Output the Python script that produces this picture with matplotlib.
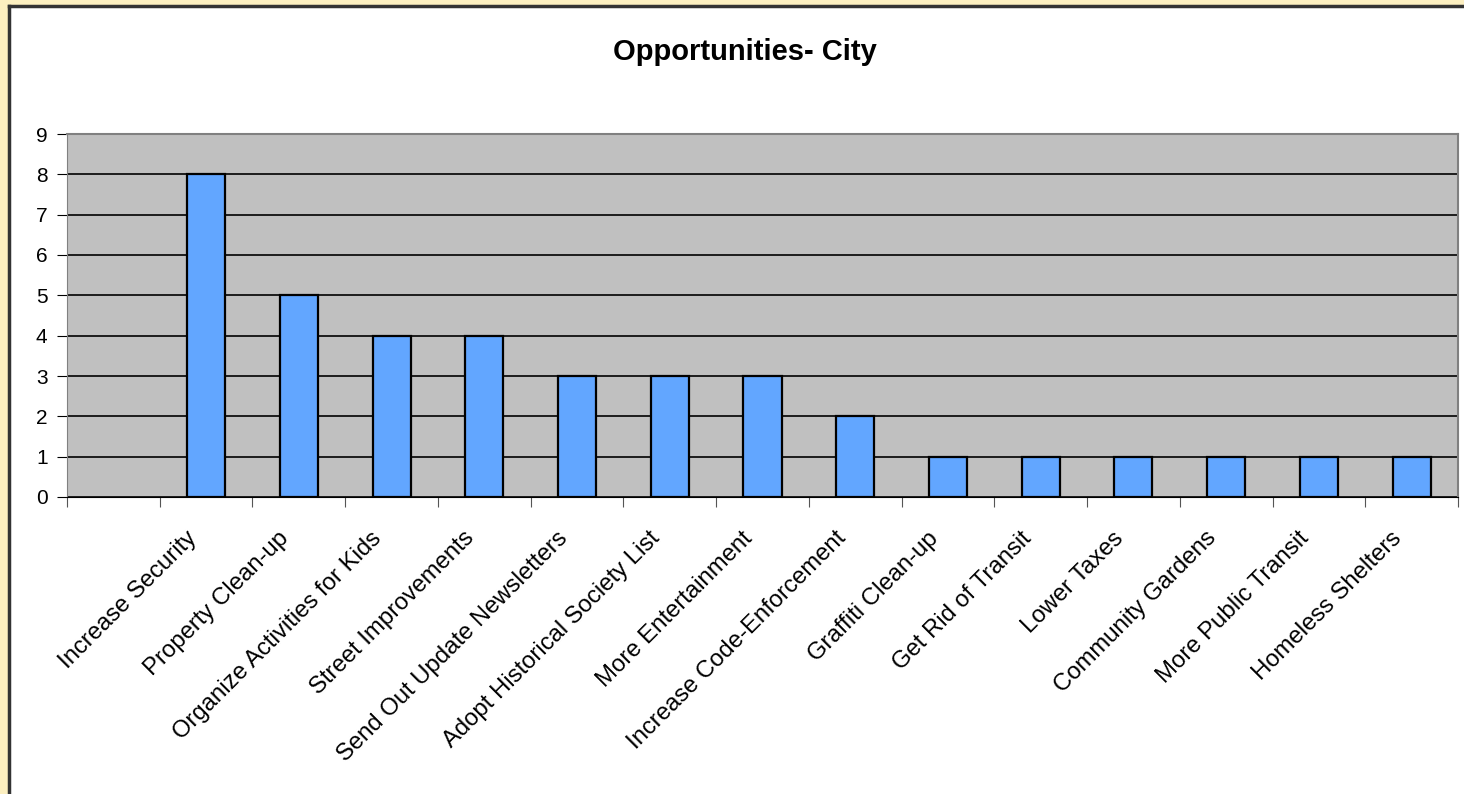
import numpy as np
import matplotlib.pyplot as plt
from matplotlib.patches import Rectangle
from matplotlib.transforms import ScaledTranslation

plt.rcParams['font.family'] = ['Liberation Sans', 'DejaVu Sans']

categories = ['', 'Increase Security', 'Property Clean-up', 'Organize Activities for Kids',
              'Street Improvements', 'Send Out Update Newsletters', 'Adopt Historical Society List',
              'More Entertainment', 'Increase Code-Enforcement', 'Graffiti Clean-up',
              'Get Rid of Transit', 'Lower Taxes', 'Community Gardens', 'More Public Transit',
              'Homeless Shelters']
values = [0, 8, 5, 4, 4, 3, 3, 3, 2, 1, 1, 1, 1, 1, 1]

W, H = 1464, 794
fig = plt.figure(figsize=(W / 100, H / 100), dpi=100)
fig.patch.set_facecolor('#FCEFC0')

# white chart area with dark frame on left/top
fig.patches.append(Rectangle((9 / W, 0), 1, 1 - 6 / H, transform=fig.transFigure,
                             facecolor='white', edgecolor='none', zorder=-10))
fig.lines.append(plt.Line2D([9 / W, 9 / W], [0, 1 - 6 / H], transform=fig.transFigure,
                            color='#333333', lw=2.5, zorder=-5))
fig.lines.append(plt.Line2D([9 / W, 1], [1 - 6 / H, 1 - 6 / H], transform=fig.transFigure,
                            color='#333333', lw=2.5, zorder=-5))

ax = fig.add_axes([67 / W, 1 - 497 / H, (1458 - 67) / W, (497 - 134) / H])
ax.set_facecolor('#C0C0C0')

x = np.arange(len(categories))
vals = np.array(values)
has = vals > 0
ax.bar(x[has], vals[has], width=0.41, color='#62A6FF', edgecolor='black', linewidth=1.6, zorder=3)

ax.set_xlim(-0.5, len(categories) - 0.5)
ax.set_ylim(0, 9)
ax.set_yticks(range(0, 10))
ax.yaxis.grid(True, color='black', linewidth=1.2, zorder=1)
ax.set_axisbelow(True)

ax.set_xticks(np.arange(-0.5, len(categories), 1.0))
ax.set_xticklabels([])
ax.tick_params(axis='x', which='major', length=7, color='#555555', direction='out')
ax.tick_params(axis='y', length=7, color='black', labelsize=15, pad=7)

# rotated category labels, Excel style (right end at category centre)
off = ScaledTranslation(-13 / 100, -38 / 100, fig.dpi_scale_trans)
for xi, lab in zip(x, categories):
    ax.text(xi, 0, lab, transform=ax.get_xaxis_transform() + off, rotation=45,
            rotation_mode='anchor', ha='right', va='center', fontsize=17.2)

for s in ['top', 'right']:
    ax.spines[s].set_color('#808080')
    ax.spines[s].set_linewidth(1.5)
ax.spines['left'].set_color('#808080')
ax.spines['bottom'].set_color('black')

fig.text(745 / W, 1 - 52 / H, 'Opportunities- City', ha='center', va='center',
         fontsize=21, fontweight='bold')

fig.savefig('out.png', dpi=100)
